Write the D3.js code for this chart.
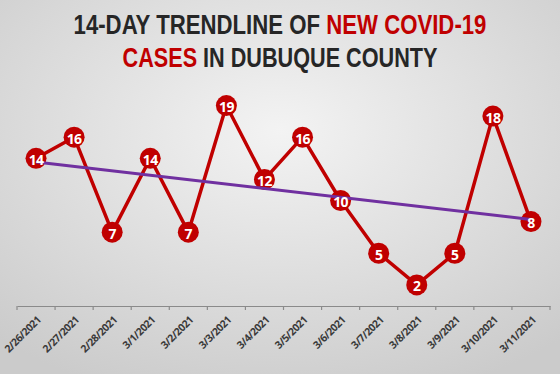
<!DOCTYPE html>
<html>
<head>
<meta charset="utf-8">
<script src="https://cdn.jsdelivr.net/npm/d3@7"></script>
<style>
    body {
        margin: 0;
        overflow: hidden;
    }
</style>
</head>
<body>
<div id="container"></div>
<script>
    // data
    const dates = ["2/26/2021", "2/27/2021", "2/28/2021", "3/1/2021", "3/2/2021", "3/3/2021", "3/4/2021",
        "3/5/2021", "3/6/2021", "3/7/2021", "3/8/2021", "3/9/2021", "3/10/2021", "3/11/2021"];
    const cases = [14, 16, 7, 14, 7, 19, 12, 16, 10, 5, 2, 5, 18, 8];
    const titleLine1 = [["14-DAY TRENDLINE OF ", "#262626"], ["NEW COVID-19", "#c00000"]];
    const titleLine2 = [["CASES", "#c00000"], [" IN DUBUQUE COUNTY", "#262626"]];

    const width = 560, height = 374;

    const svg = d3.select("#container").append("svg")
        .attr("width", width)
        .attr("height", height)
        .style("display", "block");

    // background gradient
    const defs = svg.append("defs");
    const grad = defs.append("radialGradient")
        .attr("id", "bg")
        .attr("cx", "50%").attr("cy", "35%").attr("r", "75%");
    grad.append("stop").attr("offset", "0%").attr("stop-color", "#f3f3f3");
    grad.append("stop").attr("offset", "100%").attr("stop-color", "#cbcbcb");
    svg.append("rect").attr("width", width).attr("height", height).attr("fill", "url(#bg)");

    // title, squeezed horizontally to mimic a narrow font
    function drawTitle(parts, y, targetWidth) {
        const g = svg.append("g");
        const t = g.append("text")
            .attr("x", 0).attr("y", 0)
            .attr("text-anchor", "middle")
            .style("font-family", "'Liberation Sans', Arial, sans-serif")
            .style("font-weight", 700)
            .style("font-size", "27px");
        parts.forEach(p => t.append("tspan").attr("fill", p[1]).text(p[0]));
        const w = t.node().getComputedTextLength();
        g.attr("transform", `translate(${width / 2},${y}) scale(${targetWidth / w},1)`);
    }
    drawTitle(titleLine1, 34, 413);
    drawTitle(titleLine2, 67, 315);

    // scales
    const x = d3.scaleBand().domain(dates).range([17, 550]);
    const y = d3.scaleLinear().domain([0, 20]).range([306, 95]);
    const cx = d => x(d) + x.bandwidth() / 2;

    // x axis
    const axis = svg.append("g")
        .attr("transform", "translate(0,306)")
        .call(d3.axisBottom(x).tickSize(0).tickPadding(6));
    axis.select(".domain").attr("stroke", "#8a8a8a").attr("stroke-width", 1.2);
    axis.selectAll(".tick text")
        .attr("fill", "#3a3a3a")
        .style("font-family", "'Open Sans', sans-serif")
        .style("font-weight", 700)
        .style("font-size", "10.5px")
        .style("letter-spacing", "-0.5px")
        .attr("text-anchor", "end")
        .attr("transform", "translate(3,12) rotate(-45)")
        .attr("dx", 0).attr("dy", "0.35em").attr("x", 0).attr("y", 0);
    // tick marks on band edges
    const edges = dates.map(d => x(d)).concat([x.range()[1]]);
    axis.selectAll(".edge").data(edges).join("line")
        .attr("class", "edge")
        .attr("x1", d => d).attr("x2", d => d)
        .attr("y1", 0).attr("y2", 4)
        .attr("stroke", "#8a8a8a").attr("stroke-width", 1.2);

    // series line
    const pts = dates.map((d, i) => ({date: d, value: cases[i]}));
    svg.append("path")
        .datum(pts)
        .attr("fill", "none")
        .attr("stroke", "#c00000")
        .attr("stroke-width", 3.5)
        .attr("stroke-linejoin", "round")
        .attr("d", d3.line().x(d => cx(d.date)).y(d => y(d.value)));

    svg.selectAll(".dot").data(pts).join("circle")
        .attr("class", "dot")
        .attr("cx", d => cx(d.date))
        .attr("cy", d => y(d.value))
        .attr("r", 10.5)
        .attr("fill", "#c00000");

    // linear trendline (least squares over the same values)
    const n = cases.length;
    const mx = d3.mean(cases, (v, i) => i), my = d3.mean(cases);
    const slope = d3.sum(cases, (v, i) => (i - mx) * (v - my)) / d3.sum(cases, (v, i) => (i - mx) * (i - mx));
    const trend = [0, n - 1].map(i => ({date: dates[i], value: my + slope * (i - mx)}));
    svg.append("path")
        .datum(trend)
        .attr("fill", "none")
        .attr("stroke", "#7030a0")
        .attr("stroke-width", 3)
        .attr("d", d3.line().x(d => cx(d.date)).y(d => y(d.value)));

    svg.selectAll(".lbl").data(pts).join("text")
        .attr("class", "lbl")
        .attr("x", d => cx(d.date))
        .attr("y", d => y(d.value) + 1)
        .attr("text-anchor", "middle")
        .attr("dominant-baseline", "central")
        .attr("fill", "#ffffff")
        .style("font-family", "'Open Sans', sans-serif")
        .style("font-weight", 700)
        .style("font-size", "14px")
        .style("letter-spacing", "-0.6px")
        .text(d => d.value);
</script>
</body>
</html>
